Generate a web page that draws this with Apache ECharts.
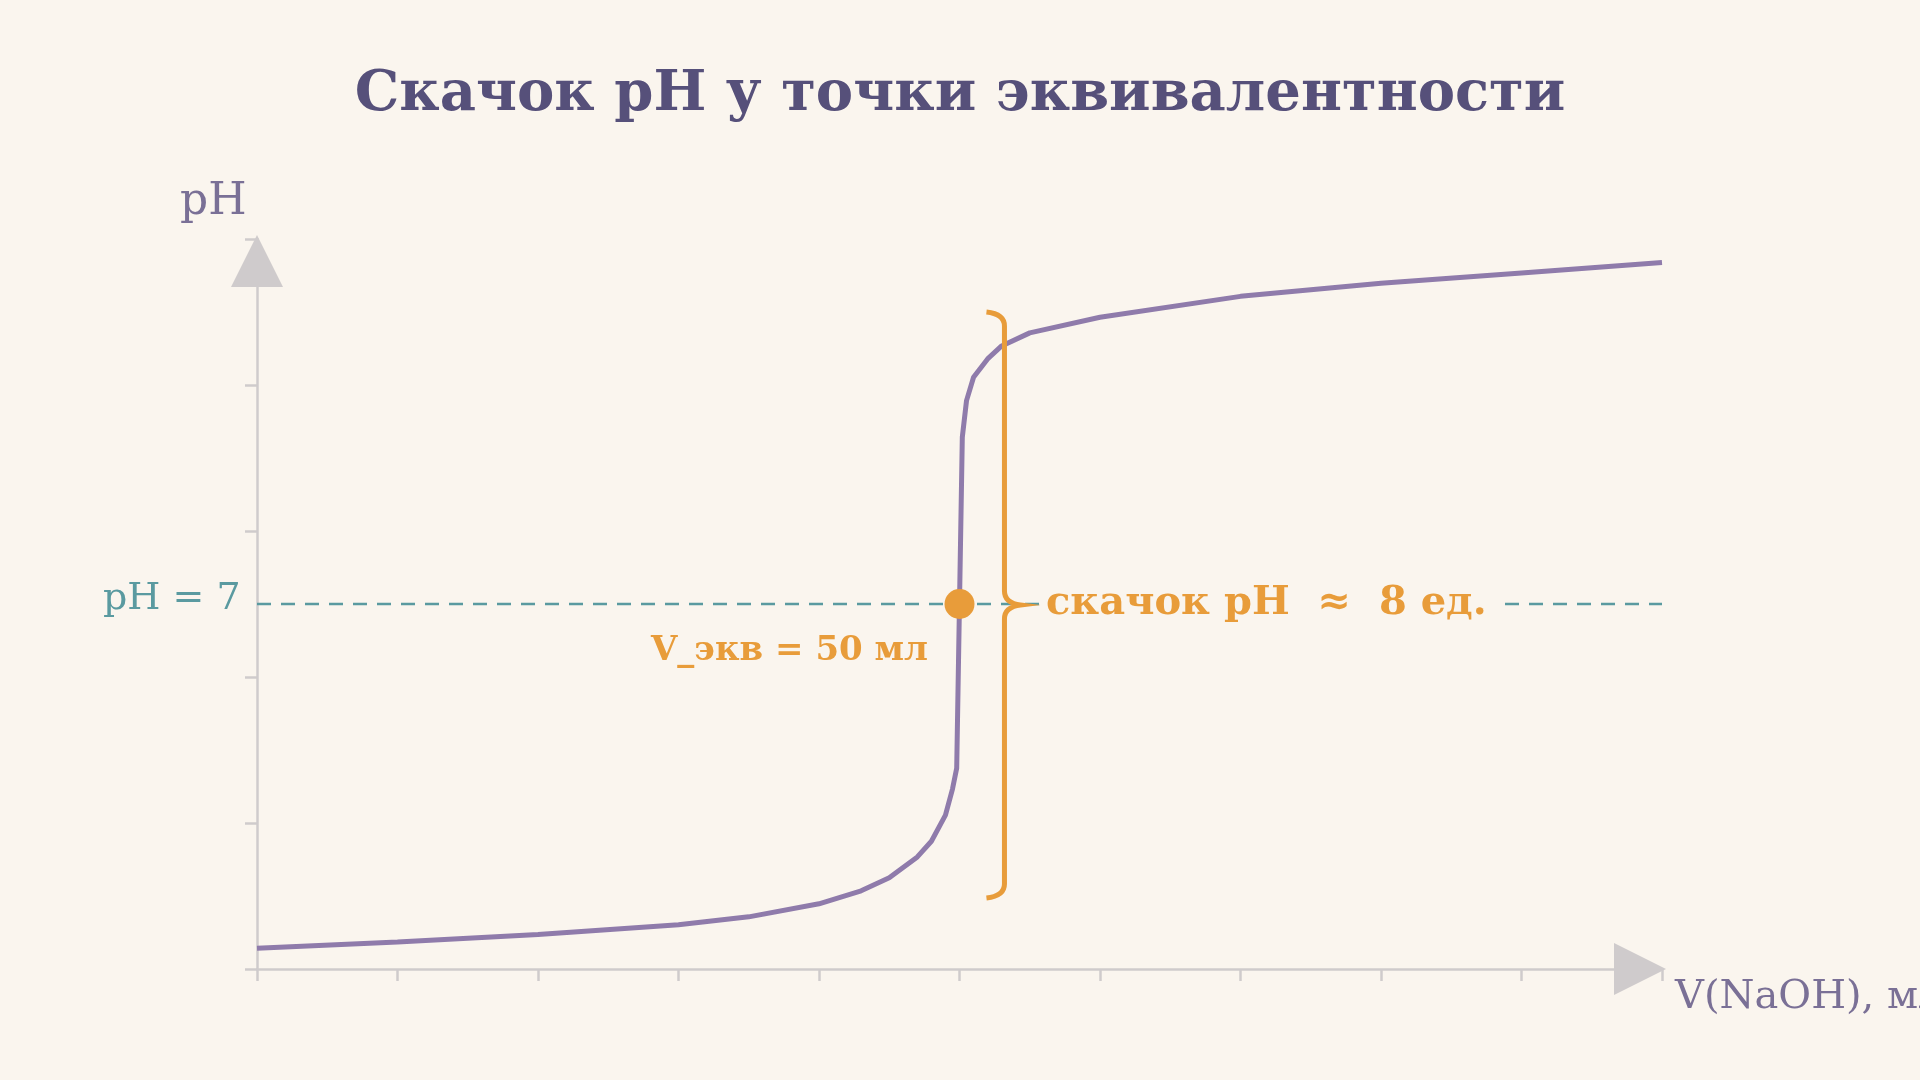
<!DOCTYPE html>
<html><head><meta charset="utf-8">
<script src="https://cdn.jsdelivr.net/npm/echarts@6/dist/echarts.min.js"></script>
<style>html,body{margin:0;background:#faf5ee}#c{width:1920px;height:1080px}</style>
</head><body><div id="c"></div>
<script>
const volume = [0,10,20,30,35,40,43,45,47,48,49,49.5,49.8,50.2,50.5,51,52,53,55,60,70,80,90,100];
const ph     = [0.4,0.52,0.66,0.85,1.0,1.25,1.5,1.75,2.15,2.45,2.95,3.45,3.85,10.2,10.9,11.35,11.7,11.95,12.2,12.5,12.9,13.15,13.35,13.55];
const eqPoint = [[50,7]];
const jumpRange = [[53.2,1.36,12.6]];
const title = 'Скачок pH у точки эквивалентности';
const jumpLabel = 'скачок pH  ≈  8 ед.';
const eqLabel = 'V_экв = 50 мл';
const f = 'DejaVu Serif';
const chart = echarts.init(document.getElementById('c'));
chart.setOption({
  backgroundColor:'#faf5ee',
  animation:false,
  title:{text:title,left:'center',top:62,textStyle:{fontFamily:f,fontSize:56,fontWeight:'bold',color:'#56507a'}},
  grid:{left:257,right:258,top:239,bottom:111},
  xAxis:{type:'value',min:0,max:100,interval:10,
    axisLine:{lineStyle:{color:'#cfcbcc',width:2.5},symbol:['none','triangle'],symbolSize:[52,52],symbolOffset:[0,-22]},
    axisTick:{length:12,lineStyle:{color:'#cfcbcc',width:2.5}},axisLabel:{show:false},splitLine:{show:false}},
  yAxis:{type:'value',min:0,max:14,interval:2.8,
    axisLine:{show:true,lineStyle:{color:'#cfcbcc',width:2.5},symbol:['none','triangle'],symbolSize:[52,52],symbolOffset:[0,-22]},
    axisTick:{show:true,length:12,lineStyle:{color:'#cfcbcc',width:2.5}},axisLabel:{show:false},splitLine:{show:false}},
  graphic:[
    {type:'text',left:180,top:181,style:{text:'pH',font:'44px "DejaVu Serif"',fill:'#7a7096'}},
    {type:'text',left:1675,top:978,style:{text:'V(NaOH), мл',font:'40px "DejaVu Serif"',fill:'#7a7096'}},
    {type:'text',left:103,top:580,style:{text:'pH = 7',font:'38px "DejaVu Serif"',fill:'#5a9aa0'}}
  ],
  series:[
    {type:'line',data:[[0,7],[100,7]],symbol:'none',lineStyle:{color:'#5a9aa0',width:2.5,type:[14,10]},z:1},
    {type:'line',data:volume.map((v,i)=>[v,ph[i]]),symbol:'none',smooth:false,lineStyle:{color:'#8f7bab',width:5},z:3},
    {type:'custom',data:jumpRange,z:4,renderItem:(p,api)=>{
      const x=api.coord([api.value(0),0])[0];
      const yb=api.coord([0,api.value(1)])[1], yt=api.coord([0,api.value(2)])[1];
      const ym=(yb+yt)/2, w=16, r=14;
      const d=`M${x-18} ${yt} Q${x} ${yt+2} ${x} ${yt+r} L${x} ${ym-r} Q${x} ${ym-2} ${x+w} ${ym} Q${x} ${ym+2} ${x} ${ym+r} L${x} ${yb-r} Q${x} ${yb-2} ${x-18} ${yb}`;
      return {type:'path',shape:{pathData:d},style:{stroke:'#e89c3a',lineWidth:5,fill:null}};
    }},
    {type:'scatter',data:eqPoint,symbolSize:30,itemStyle:{color:'#e89c3a',opacity:1},z:5,
      label:{show:true,position:'bottom',offset:[-170,10],formatter:eqLabel,fontFamily:f,fontWeight:'bold',fontSize:34,color:'#e89c3a'}},
    {type:'scatter',data:[[55.8,7]],symbolSize:0,itemStyle:{opacity:1},z:5,
      label:{show:true,position:'right',formatter:jumpLabel,fontFamily:f,fontWeight:'bold',fontSize:40,color:'#e89c3a',backgroundColor:'#faf5ee',padding:[0,10,0,0]}}
  ]
});
</script></body></html>
